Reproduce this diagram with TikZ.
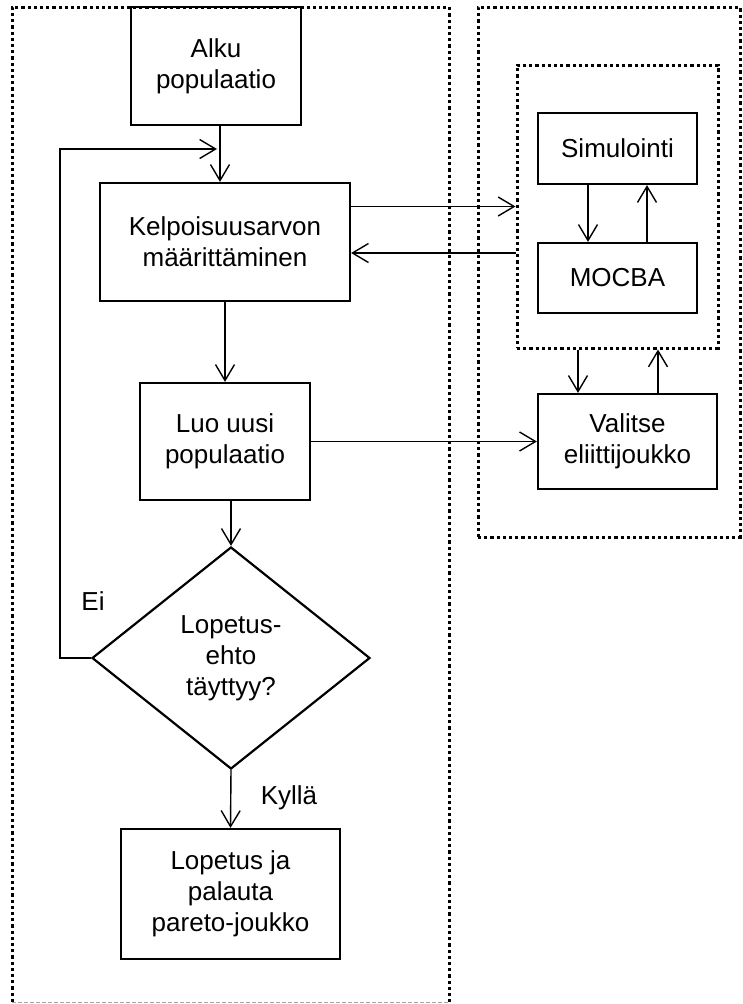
\documentclass[tikz,border=0pt]{standalone}
\usepackage{fontspec}
\setmainfont{Liberation Sans}
\usetikzlibrary{arrows.meta,shapes.geometric}

\tikzset{
  stepbox/.style={draw, line width=2.2pt, rectangle, inner sep=0pt, align=center,
    font=\fontsize{26}{31}\selectfont},
  decision/.style={draw, line width=2.2pt, diamond, inner sep=0pt, align=center,
    aspect=1.25, font=\fontsize{26}{31}\selectfont},
  groupbox/.style={draw, line width=3pt, dash pattern=on 3.2pt off 3pt, rectangle, inner sep=0pt},
  arr/.style={line width=1.4pt, -{Straight Barb[length=16pt,width=19pt]}},
  lbl/.style={font=\fontsize{26}{31}\selectfont, inner sep=0pt},
}

\begin{document}
\begin{tikzpicture}[x=1pt, y=-1pt]
  \useasboundingbox (0,0) rectangle (743,1004);

  % grouping frames
  \draw[line width=3pt, dash pattern=on 3.2pt off 3pt]
    (12,1002) -- (12,7) -- (449,7) -- (449,1002);
  \draw[gray!70, line width=0.8pt, dash pattern=on 4pt off 2pt] (12,1002.5) -- (449,1002.5);
  \node[groupbox, minimum width=262pt, minimum height=530pt] (outer) at (609,272) {};
  \node[groupbox, minimum width=201pt, minimum height=283pt] (inner) at (617.5,206.5) {};

  % process steps
  \node[stepbox, minimum width=170pt, minimum height=118pt] (alku) at (216,66) {Alku\\populaatio};
  \node[stepbox, minimum width=250pt, minimum height=118pt] (kelpo) at (225,242) {Kelpoisuusarvon\\määrittäminen};
  \node[stepbox, minimum width=170pt, minimum height=117pt] (luo) at (225,441.5) {Luo uusi\\populaatio};
  \node[decision, minimum width=278pt, minimum height=222pt] (dia) at (231,658) {Lopetus-\\ehto\\täyttyy?};
  \node[stepbox, minimum width=219pt, minimum height=130pt] (stop) at (230.5,894) {Lopetus ja\\palauta\\pareto-joukko};

  \node[stepbox, minimum width=159pt, minimum height=71pt] (sim) at (617.5,148.5) {Simulointi};
  \node[stepbox, minimum width=159pt, minimum height=70pt] (moc) at (617.5,278) {MOCBA};
  \node[stepbox, minimum width=179pt, minimum height=95pt] (val) at (627.5,441.5) {Valitse\\eliittijoukko};

  % main flow
  \draw[arr] ([xshift=4pt]alku.south) -- ([xshift=4pt]alku.south |- kelpo.north);
  \draw[arr] (kelpo.south) -- (luo.north);
  \draw[arr] (dia.north |- luo.south) -- (dia.north);
  \draw[arr] (dia.south) -- (stop.north);

  % loop back when the stopping condition is not met
  \coordinate (loopturn) at (60,149);
  \coordinate (looptip) at (217,149);
  \draw[arr] (dia.west) -| (loopturn) -- (looptip);

  % exchange with the evaluation block
  \draw[arr] (kelpo.east |- inner.west) -- (inner.west);
  \draw[arr] ([yshift=-46.5pt]inner.west) coordinate (back) -- (kelpo.east |- back);
  \draw[arr] ([xshift=-29.5pt]sim.south) -- ([xshift=-29.5pt]sim.south |- moc.north);
  \draw[arr] ([xshift=29.5pt]moc.north) -- ([xshift=29.5pt]moc.north |- sim.south);
  \draw[arr] (luo.east) -- (val.west);
  \draw[arr] ([xshift=-39.5pt]inner.south) -- ([xshift=-39.5pt]inner.south |- val.north);
  \draw[arr] ([xshift=40.5pt]inner.south |- val.north) -- ([xshift=40.5pt]inner.south);

  % branch labels
  \node[lbl] (ei) at (93,601) {Ei};
  \node[lbl] (kylla) at (289,798) {Kyllä};
\end{tikzpicture}
\end{document}
